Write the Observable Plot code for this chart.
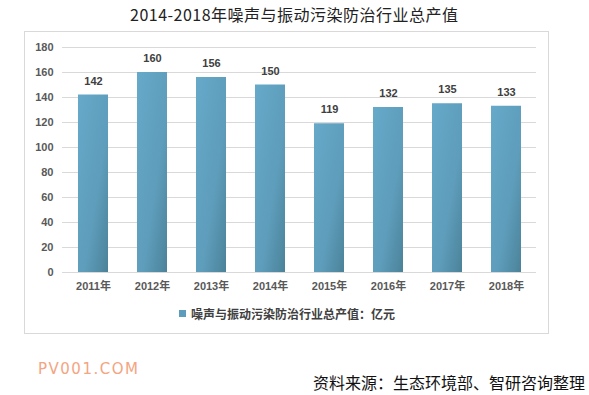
<!DOCTYPE html>
<html><head><meta charset="utf-8">
<script src="https://cdn.jsdelivr.net/npm/d3@7"></script>
<script src="https://cdn.jsdelivr.net/npm/@observablehq/plot@0.6"></script>
<style>
body{margin:0;background:#fff;width:589px;height:395px;position:relative;overflow:hidden;font-family:"Noto Sans CJK SC","Liberation Sans",sans-serif;}
#title{position:absolute;left:130px;top:2px;font-size:16px;color:#222;letter-spacing:0.5px;white-space:nowrap;}
#box{position:absolute;left:24px;top:31px;width:523px;height:301px;border:1px solid #d9d9d9;}
#chart{position:absolute;left:0;top:0;}
#legend{position:absolute;left:154px;top:273px;font-size:12px;font-weight:bold;color:#404040;display:flex;align-items:center;white-space:nowrap;}
#legend span.sw{display:inline-block;width:7px;height:7px;background:#5c9dbc;margin-right:5px;}
#wm{position:absolute;left:38px;top:360px;font-size:15px;color:#f4a582;letter-spacing:1.5px;font-family:"DejaVu Sans",sans-serif;white-space:nowrap;}
#src{position:absolute;left:313px;top:370px;font-size:16px;color:#111;white-space:nowrap;}
</style></head>
<body>
<div id="title">2014-2018年噪声与振动污染防治行业总产值</div>
<div id="box"><div id="chart"></div><div id="legend"><span class="sw"></span>噪声与振动污染防治行业总产值：亿元</div></div>
<div id="wm">PV001.COM</div>
<div id="src">资料来源：生态环境部、智研咨询整理</div>
<script>
const years = ["2011年","2012年","2013年","2014年","2015年","2016年","2017年","2018年"];
const values = [142,160,156,150,119,132,135,133];
const yTicks = [0,20,40,60,80,100,120,140,160,180];

const data = years.map((y,i)=>({year:y,value:values[i]}));
const chart = Plot.plot({
  width:523, height:270,
  marginLeft:37, marginRight:12, marginTop:15, marginBottom:30,
  style:{fontFamily:'"Liberation Sans","Noto Sans CJK SC",sans-serif',fontSize:"11px",fontWeight:"bold",color:"#595959",background:"transparent"},
  x:{domain:years,paddingInner:0.5,paddingOuter:0.25,label:null,tickSize:0,tickPadding:10},
  y:{domain:[0,180],ticks:yTicks,label:null,tickSize:0,tickPadding:9,grid:false},
  marks:[
    Plot.ruleY(yTicks,{stroke:"#d9d9d9",strokeWidth:1}),
    Plot.barY(data,{x:"year",y:"value",fill:"url(#barGrad)"}),
    Plot.text(data,{x:"year",y:"value",text:d=>String(d.value),dy:-14,fill:"#404040",fontWeight:"bold",fontSize:11})
  ]
});
const ns="http://www.w3.org/2000/svg";
const defs=document.createElementNS(ns,"defs");
defs.innerHTML='<linearGradient id="barGrad" x1="0" y1="0" x2="1" y2="1" gradientUnits="objectBoundingBox"><stop offset="0" stop-color="#66a9c9"/><stop offset="0.6" stop-color="#5e9dbb"/><stop offset="1" stop-color="#4b8299"/></linearGradient>';
chart.insertBefore(defs,chart.firstChild);
document.getElementById("chart").appendChild(chart);
</script>
</body></html>
